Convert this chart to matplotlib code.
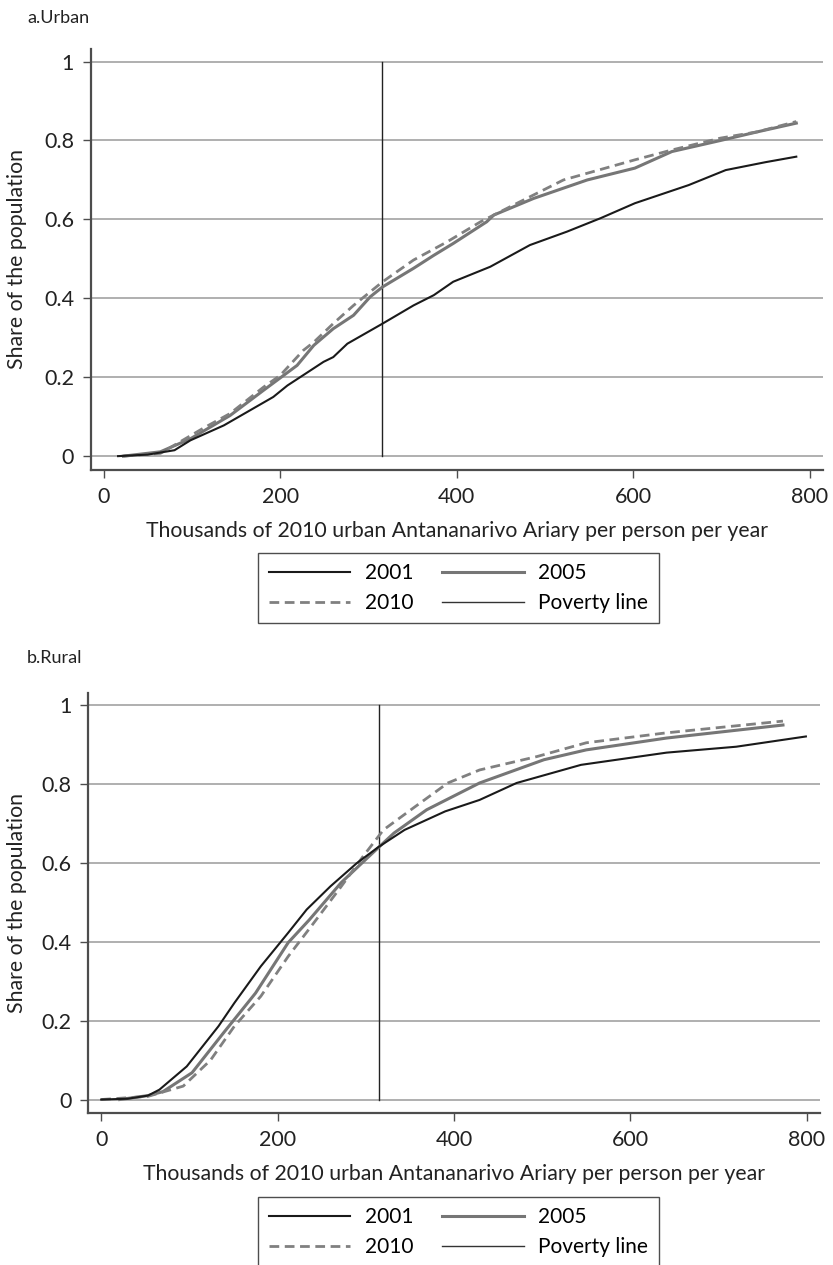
import numpy as np
import matplotlib
matplotlib.use('Agg')
import matplotlib.pyplot as plt
from matplotlib.lines import Line2D

plt.rcParams['font.family'] = ['Lato', 'DejaVu Sans']

# urban (panel a) cumulative distributions, thousands of Ariary vs share
u01_x = [16, 50, 80, 98, 136, 150, 192, 208, 234, 249, 260, 276, 316, 351, 374, 396, 438, 483, 525, 563, 602, 663, 705, 750, 785]
u01_y = [0, 0.004, 0.015, 0.04, 0.078, 0.096, 0.15, 0.179, 0.217, 0.239, 0.251, 0.285, 0.336, 0.382, 0.408, 0.442, 0.48, 0.535, 0.569, 0.603, 0.641, 0.687, 0.725, 0.745, 0.759]
u05_x = [22, 64, 98, 143, 181, 219, 238, 260, 283, 302, 316, 351, 374, 396, 434, 442, 487, 548, 602, 644, 699, 741, 785]
u05_y = [0, 0.011, 0.044, 0.103, 0.167, 0.23, 0.281, 0.323, 0.357, 0.404, 0.429, 0.476, 0.509, 0.539, 0.594, 0.611, 0.653, 0.70, 0.73, 0.772, 0.80, 0.822, 0.844]
u10_x = [22, 64, 112, 143, 181, 200, 226, 238, 260, 283, 316, 351, 389, 427, 464, 521, 602, 644, 699, 741, 785]
u10_y = [0, 0.007, 0.07, 0.108, 0.175, 0.205, 0.268, 0.289, 0.336, 0.382, 0.442, 0.497, 0.543, 0.594, 0.636, 0.70, 0.751, 0.776, 0.806, 0.822, 0.848]

# rural (panel b)
r01_x = [0, 30, 53, 66, 97, 133, 151, 181, 212, 233, 260, 290, 314, 344, 390, 429, 471, 544, 641, 720, 799]
r01_y = [0, 0.002, 0.01, 0.025, 0.084, 0.186, 0.245, 0.338, 0.423, 0.482, 0.541, 0.60, 0.64, 0.684, 0.731, 0.76, 0.803, 0.849, 0.88, 0.895, 0.921]
r05_x = [21, 53, 70, 103, 139, 175, 212, 236, 272, 308, 332, 369, 429, 502, 550, 641, 773]
r05_y = [0, 0.01, 0.02, 0.068, 0.17, 0.27, 0.398, 0.456, 0.55, 0.626, 0.676, 0.735, 0.803, 0.862, 0.887, 0.917, 0.95]
r10_x = [0, 53, 93, 124, 151, 181, 212, 241, 272, 297, 320, 356, 393, 429, 494, 550, 640, 773]
r10_y = [0, 0.008, 0.034, 0.10, 0.186, 0.262, 0.363, 0.448, 0.54, 0.617, 0.684, 0.743, 0.803, 0.836, 0.87, 0.905, 0.93, 0.96]

poverty_line = 315
xticks = [0, 200, 400, 600, 800]
yticks = [0, 0.2, 0.4, 0.6, 0.8, 1]
ytick_labels = ['0', '0.2', '0.4', '0.6', '0.8', '1']

c01, c05, c10 = '#1a1a1a', '#767676', '#808080'
spine_c = '#4d4d4d'

W, H = 833, 1265
fig = plt.figure(figsize=(W / 100, H / 100), dpi=100)


def draw_panel(rect, title, title_y, s01, s05, s10, legend_top):
    ax = fig.add_axes(rect)
    ax.set_xlim(-15, 815)
    ax.set_ylim(-0.035, 1.032)
    for y in yticks:
        ax.axhline(y, color='#9a9a9a', lw=1.1, zorder=1)
    ax.axvline(poverty_line, ymin=(0 + 0.035) / 1.067, ymax=(1 + 0.035) / 1.067,
               color='#222222', lw=1.0, zorder=2)
    ax.plot(s01[0], s01[1], color=c01, lw=1.5, zorder=4)
    ax.plot(s05[0], s05[1], color=c05, lw=2.2, zorder=3)
    ax.plot(s10[0], s10[1], color=c10, lw=2.0, ls=(0, (3.5, 2)), zorder=3)

    for side in ['top', 'right']:
        ax.spines[side].set_visible(False)
    for side in ['left', 'bottom']:
        ax.spines[side].set_color(spine_c)
        ax.spines[side].set_linewidth(1.6)
    ax.set_xticks(xticks)
    ax.set_yticks(yticks)
    ax.set_yticklabels(ytick_labels)
    ax.tick_params(axis='both', colors=spine_c, labelcolor='#222222', labelsize=15.5,
                   length=6, width=1.0, pad=6)
    ax.set_xlabel('Thousands of 2010 urban Antananarivo Ariary per person per year',
                  fontsize=15.3, color='#222222', labelpad=10)
    ax.set_ylabel('Share of the population', fontsize=15.3, color='#222222')
    ax.yaxis.set_label_coords((27 / W - rect[0]) / rect[2], 0.5)

    fig.text(27 / W, 1 - title_y / H, title, fontsize=13, color='#222222',
             va='center', ha='left')

    handles = [Line2D([], [], color=c01, lw=1.5),
               Line2D([], [], color=c10, lw=2.0, ls=(0, (3.5, 2))),
               Line2D([], [], color=c05, lw=2.2),
               Line2D([], [], color='#333333', lw=1.0)]
    labels = ['2001', '2010', '2005', 'Poverty line']
    leg = fig.legend(handles, labels, ncol=2, loc='upper center',
                     bbox_to_anchor=(0.5504, 1 - legend_top / H), fontsize=15,
                     frameon=True, fancybox=False, edgecolor='#222222',
                     handlelength=3.9, handletextpad=0.7, columnspacing=1.4,
                     borderpad=0.5, labelspacing=0.45, borderaxespad=0)
    leg.get_frame().set_linewidth(1.0)
    return ax


draw_panel([0.1089, 0.6285, 0.8788, 0.3328], 'a.Urban', 18,
           (u01_x, u01_y), (u05_x, u05_y), (u10_x, u10_y), 553)
draw_panel([0.1056, 0.1199, 0.8788, 0.3325], 'b.Rural', 658,
           (r01_x, r01_y), (r05_x, r05_y), (r10_x, r10_y), 1197)

fig.savefig('out.png', dpi=100)
